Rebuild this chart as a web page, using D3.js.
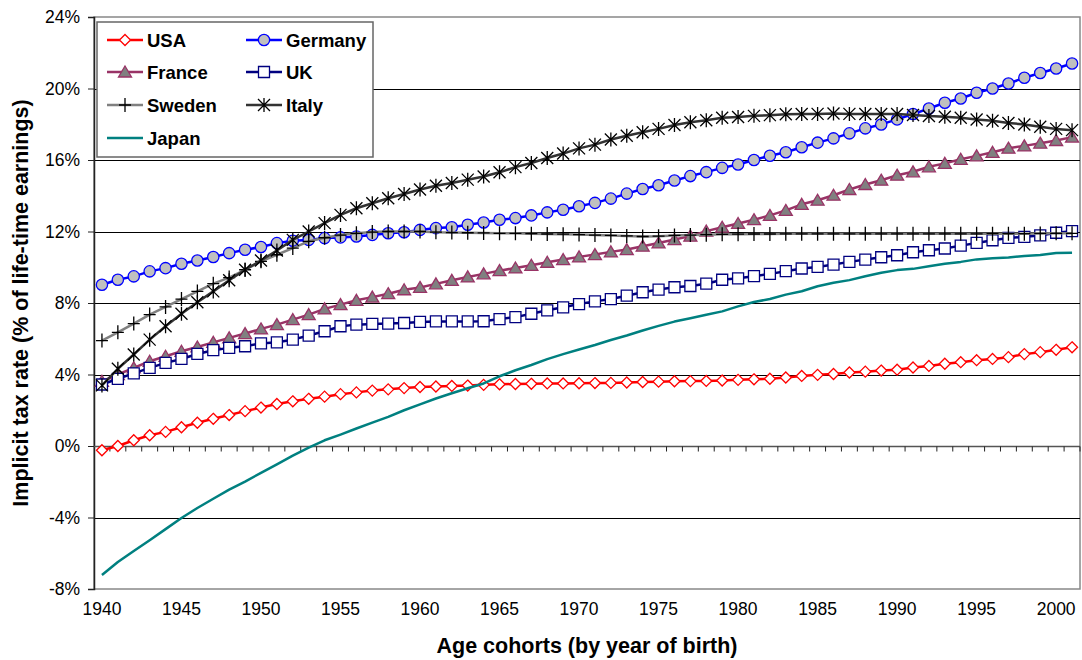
<!DOCTYPE html>
<html>
<head>
<meta charset="utf-8">
<script src="https://cdn.jsdelivr.net/npm/d3@7"></script>
<style>
  html, body { margin: 0; padding: 0; background: #fff; }
  svg { display: block; font-family: Arial, "Liberation Sans", sans-serif; }
</style>
</head>
<body>
<svg id="chart" width="1082" height="660"></svg>
<script>
// ---------- DATA ----------
const years = d3.range(1940, 2002);
const yTicks = [-8, -4, 0, 4, 8, 12, 16, 20, 24];
const xLabelYears = [1940, 1945, 1950, 1955, 1960, 1965, 1970, 1975, 1980, 1985, 1990, 1995, 2000];

const usa = [-0.24, 0.0, 0.32, 0.6, 0.79, 1.05, 1.3, 1.52, 1.73, 1.95, 2.15, 2.35, 2.5, 2.64, 2.76, 2.9, 3.0, 3.1, 3.17, 3.24, 3.3, 3.33, 3.36, 3.38, 3.42,
  3.45, 3.47, 3.48, 3.5, 3.5, 3.51, 3.52, 3.53, 3.55, 3.58, 3.6, 3.62, 3.63, 3.64, 3.66, 3.7, 3.73, 3.76, 3.83, 3.92, 3.98, 4.03, 4.11, 4.16, 4.22,
  4.27, 4.39, 4.48, 4.6, 4.69, 4.8, 4.87, 4.97, 5.14, 5.25, 5.38, 5.52];
const germany = [9.02, 9.3, 9.49, 9.77, 9.95, 10.2, 10.38, 10.57, 10.79, 10.98, 11.13, 11.35, 11.48, 11.53, 11.63, 11.67, 11.72, 11.81, 11.9, 11.96,
  12.09, 12.19, 12.24, 12.38, 12.5, 12.66, 12.75, 12.9, 13.07, 13.22, 13.41, 13.6, 13.84, 14.12, 14.38, 14.59, 14.85, 15.1, 15.32, 15.56, 15.75,
  16.0, 16.24, 16.43, 16.71, 16.97, 17.21, 17.49, 17.77, 17.99, 18.27, 18.57, 18.88, 19.2, 19.44, 19.76, 20.0, 20.28, 20.6, 20.87, 21.12, 21.4];
const france = [3.62, 4.0, 4.37, 4.74, 5.02, 5.3, 5.54, 5.8, 6.05, 6.29, 6.55, 6.79, 7.07, 7.35, 7.67, 7.91, 8.15, 8.33, 8.52, 8.74,
  8.87, 9.07, 9.27, 9.46, 9.63, 9.81, 9.96, 10.11, 10.28, 10.43, 10.58, 10.71, 10.86, 10.99, 11.18, 11.36, 11.55, 11.74, 12.02, 12.24, 12.45,
  12.66, 12.9, 13.18, 13.52, 13.75, 14.03, 14.35, 14.63, 14.87, 15.15, 15.34, 15.62, 15.81, 16.04, 16.23, 16.43, 16.66, 16.79, 16.94, 17.09, 17.28];
const uk = [3.44, 3.76, 4.06, 4.37, 4.65, 4.87, 5.15, 5.36, 5.49, 5.58, 5.74, 5.8, 5.95, 6.18, 6.42, 6.7, 6.79, 6.83, 6.85, 6.88,
  6.94, 6.97, 6.97, 6.97, 6.98, 7.1, 7.21, 7.4, 7.59, 7.76, 7.94, 8.09, 8.22, 8.41, 8.6, 8.75, 8.88, 8.95, 9.08, 9.3, 9.38,
  9.5, 9.63, 9.78, 9.93, 10.02, 10.15, 10.3, 10.43, 10.56, 10.67, 10.84, 10.95, 11.05, 11.21, 11.36, 11.51, 11.64, 11.7, 11.78, 11.93, 12.02];
const sweden = [5.9, 6.36, 6.85, 7.35, 7.78, 8.22, 8.65, 9.08, 9.42, 9.86, 10.33, 10.7, 11.07, 11.45, 11.65, 11.8, 11.9, 11.97, 12.0, 12.0,
  12.0, 11.96, 11.94, 11.93, 11.92, 11.9, 11.9, 11.88, 11.86, 11.85, 11.83, 11.8, 11.78, 11.75, 11.72, 11.74, 11.78, 11.8, 11.82, 11.84, 11.85,
  11.86, 11.86, 11.87, 11.87, 11.87, 11.87, 11.87, 11.87, 11.87, 11.87, 11.87, 11.87, 11.87, 11.87, 11.87, 11.88, 11.88, 11.88, 11.89, 11.9, 11.9];
const italy = [3.39, 4.32, 5.12, 5.95, 6.7, 7.4, 8.04, 8.65, 9.27, 9.86, 10.38, 10.94, 11.53, 12.0, 12.47, 12.93, 13.3, 13.58, 13.86, 14.1,
  14.35, 14.56, 14.71, 14.9, 15.08, 15.31, 15.6, 15.83, 16.11, 16.36, 16.65, 16.86, 17.15, 17.36, 17.55, 17.74, 17.96, 18.11, 18.22, 18.36, 18.41,
  18.47, 18.51, 18.56, 18.57, 18.58, 18.6, 18.58, 18.57, 18.57, 18.57, 18.52, 18.46, 18.42, 18.36, 18.27, 18.2, 18.07, 17.99, 17.86, 17.74, 17.67];
const japan = [-7.22, -6.49, -5.87, -5.27, -4.65, -4.03, -3.47, -2.95, -2.44, -1.99, -1.5, -1.03, -0.54, -0.09, 0.32, 0.64, 0.98, 1.31, 1.63, 2.0,
  2.33, 2.66, 2.95, 3.23, 3.5, 3.9, 4.24, 4.53, 4.86, 5.14, 5.4, 5.65, 5.93, 6.18, 6.46, 6.72, 6.96, 7.15, 7.34, 7.53, 7.81,
  8.06, 8.22, 8.47, 8.66, 8.94, 9.13, 9.28, 9.5, 9.69, 9.84, 9.91, 10.06, 10.2, 10.3, 10.44, 10.5, 10.55, 10.63, 10.68, 10.8, 10.81];

const seriesNames = ["USA", "Germany", "France", "UK", "Sweden", "Italy", "Japan"];
const seriesValues = [usa, germany, france, uk, sweden, italy, japan];

// ---------- STYLES ----------
const styles = {
  USA:     { line: "#FF0000", width: 2.5, marker: "diamond", fill: "#FFFFFF", stroke: "#FF0000" },
  Germany: { line: "#0000FF", width: 2.5, marker: "circle",  fill: "#C0C0C0", stroke: "#0000FF" },
  France:  { line: "#993366", width: 2.5, marker: "triangle", fill: "#808080", stroke: "#993366" },
  UK:      { line: "#000080", width: 2.5, marker: "square",  fill: "#FFFFFF", stroke: "#000080" },
  Sweden:  { line: "#808080", width: 2.5, marker: "plus",    fill: "none",    stroke: "#000000" },
  Italy:   { line: "#333333", width: 2.5, marker: "star",    fill: "none",    stroke: "#000000" },
  Japan:   { line: "#008080", width: 2.5, marker: "none",    fill: "none",    stroke: "none" }
};

const markerPath = {
  diamond: "M0,-5.5L5.5,0L0,5.5L-5.5,0Z",
  circle: d3.symbol(d3.symbolCircle, 100)(),
  triangle: "M0,-6L6.5,5L-6.5,5Z",
  square: "M-5.5,-5.5H5.5V5.5H-5.5Z",
  plus: "M-6,0H6M0,-7V7",
  star: "M0,-7V7M-6,-6L6,6M-6,6L6,-6"
};

// ---------- LAYOUT ----------
const svg = d3.select("#chart");
const L = 94, R = 1080, T = 17, B = 589;

const x = d3.scaleBand().domain(years).range([L, R]).paddingInner(0).paddingOuter(0);
const xc = yr => x(yr) + x.bandwidth() / 2;
const y = d3.scaleLinear().domain([-8, 24]).range([B, T]);

// Plot frame (gray)
svg.append("rect").attr("x", L).attr("y", T).attr("width", R - L).attr("height", B - T)
  .attr("fill", "#fff").attr("stroke", "#888").attr("stroke-width", 1.5);

// Gridlines
svg.append("g").selectAll("line").data(yTicks.filter(v => v !== -8 && v !== 24 && v !== 0)).join("line")
  .attr("x1", L).attr("x2", R).attr("y1", d => Math.round(y(d)) + 0.5).attr("y2", d => Math.round(y(d)) + 0.5)
  .attr("stroke", "#000").attr("stroke-width", 1);

// Y axis
const yAxis = svg.append("g").attr("transform", `translate(${L},0)`)
  .call(d3.axisLeft(y).tickValues(yTicks).tickFormat(d => d + "%").tickSize(6).tickPadding(8));
yAxis.select(".domain").attr("stroke", "#222").attr("stroke-width", 1.5);
yAxis.selectAll(".tick line").attr("stroke", "#222");
yAxis.selectAll("text").attr("font-size", 17.5).attr("fill", "#000")
  .attr("font-family", "Arial, 'Liberation Sans', sans-serif");

// Zero line with category ticks
const y0 = Math.round(y(0)) + 0.5;
svg.append("line").attr("x1", L).attr("x2", R).attr("y1", y0).attr("y2", y0)
  .attr("stroke", "#555").attr("stroke-width", 1.5);
svg.append("g").selectAll("line").data(years.slice(1).concat(["end"])).join("line")
  .attr("x1", d => d === "end" ? R : x(d)).attr("x2", d => d === "end" ? R : x(d))
  .attr("y1", y0).attr("y2", y0 + 5).attr("stroke", "#222").attr("stroke-width", 1);

// X axis labels (at bottom)
const xAxis = svg.append("g").attr("transform", `translate(0,${B})`)
  .call(d3.axisBottom(x).tickValues(xLabelYears).tickSize(0).tickPadding(14));
xAxis.select(".domain").remove();
xAxis.selectAll("text").attr("font-size", 17.5).attr("fill", "#000")
  .attr("font-family", "Arial, 'Liberation Sans', sans-serif");

// Axis titles
svg.append("text").attr("x", 587).attr("y", 653).attr("text-anchor", "middle")
  .attr("font-size", 21.5).attr("font-weight", "bold").text("Age cohorts (by year of birth)");
svg.append("text").attr("transform", "translate(28,303) rotate(-90)").attr("text-anchor", "middle")
  .attr("font-size", 21.5).attr("font-weight", "bold").text("Implicit tax rate (% of life-time earnings)");

// Series
const lineGen = d3.line().x((d, i) => xc(years[i])).y(d => y(d));
seriesNames.forEach((name, si) => {
  const st = styles[name];
  const vals = seriesValues[si];
  const g = svg.append("g");
  g.append("path").datum(vals).attr("d", lineGen).attr("fill", "none")
    .attr("stroke", st.line).attr("stroke-width", st.width).attr("stroke-linejoin", "round");
  if (st.marker !== "none") {
    g.selectAll("path.m").data(vals).join("path").attr("class", "m")
      .attr("transform", (d, i) => `translate(${xc(years[i])},${y(d)})`)
      .attr("d", markerPath[st.marker])
      .attr("fill", st.fill).attr("stroke", st.stroke).attr("stroke-width", 1.3);
  }
});

// Legend
const lg = svg.append("g");
lg.append("rect").attr("x", 97).attr("y", 22).attr("width", 276).attr("height", 135)
  .attr("fill", "#fff").attr("stroke", "#666").attr("stroke-width", 1.5);
const legendPos = [[107, 40], [246, 40], [107, 72], [246, 72], [107, 105], [246, 105], [107, 138]];
seriesNames.forEach((name, i) => {
  const st = styles[name];
  const [lx, ly] = legendPos[i];
  lg.append("line").attr("x1", lx).attr("x2", lx + 36).attr("y1", ly).attr("y2", ly)
    .attr("stroke", st.line).attr("stroke-width", st.width);
  if (st.marker !== "none") {
    lg.append("path").attr("transform", `translate(${lx + 18},${ly})`).attr("d", markerPath[st.marker])
      .attr("fill", st.fill).attr("stroke", st.stroke).attr("stroke-width", 1.3);
  }
  lg.append("text").attr("x", lx + 40).attr("y", ly + 6.5).attr("font-size", 18.5).attr("font-weight", "bold")
    .attr("fill", "#000").text(name);
});
</script>
</body>
</html>
